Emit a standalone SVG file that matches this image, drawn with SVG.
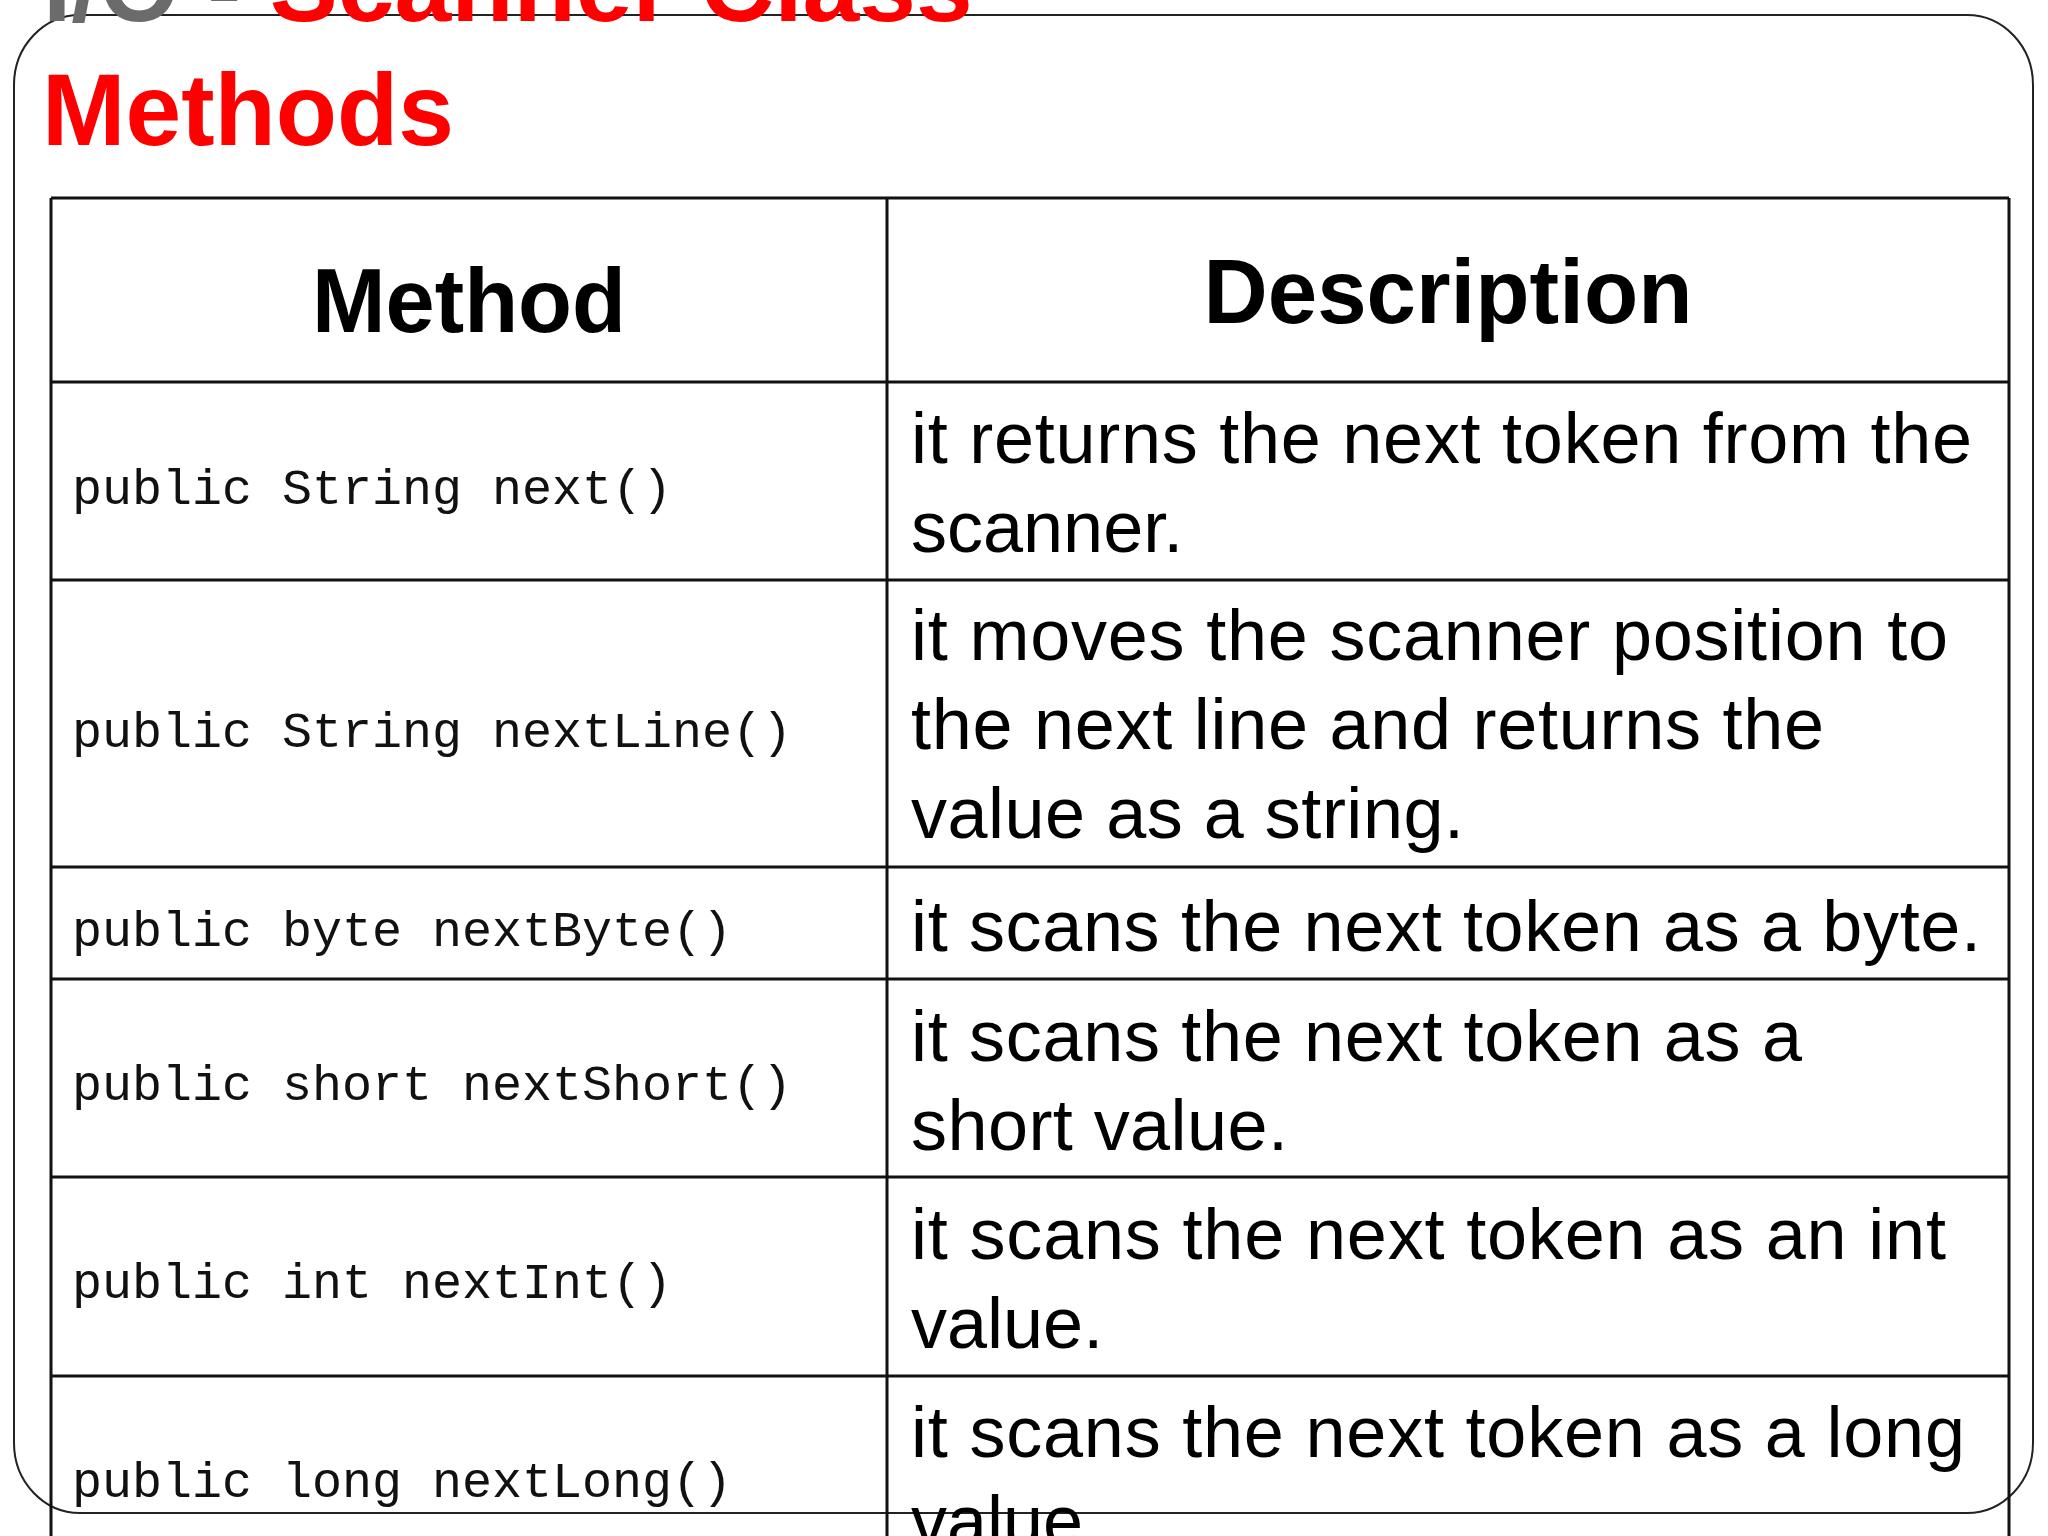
<svg xmlns="http://www.w3.org/2000/svg" width="2048" height="1536" viewBox="0 0 2048 1536">
<style>
.frame{fill:none;stroke:#222;stroke-width:2}
.grid{stroke:#111;stroke-width:3;fill:none}
.ttl{font-family:"Liberation Sans",Arial,sans-serif;font-weight:bold;font-size:102px}
.hdr{font-family:"Liberation Sans",Arial,sans-serif;font-weight:bold;font-size:90px;fill:#000;text-anchor:middle}
.mono{font-family:"Liberation Mono","Courier New",monospace;font-size:50px;fill:#111}
.desc{font-family:"Liberation Sans",Arial,sans-serif;font-size:72px;fill:#000}
</style>
<rect width="2048" height="1536" fill="#fff"/>
<g id="frame">
<rect class="frame" x="14" y="15" width="2019" height="1498" rx="66" ry="70"/>
</g>
<g id="title">
<text class="ttl" x="43" y="21"><tspan fill="#6b6b6b">I/O - </tspan><tspan fill="#ff0000">Scanner Class</tspan></text>
<text class="ttl" x="42" y="145" fill="#ff0000" textLength="412" lengthAdjust="spacingAndGlyphs">Methods</text>
</g>
<g id="connectors">
<line class="grid" x1="51" y1="198" x2="51" y2="1536"/>
<line class="grid" x1="887" y1="198" x2="887" y2="1536"/>
<line class="grid" x1="2009" y1="198" x2="2009" y2="1536"/>
<line class="grid" x1="51" y1="198" x2="2009" y2="198"/>
<line class="grid" x1="51" y1="382" x2="2009" y2="382"/>
<line class="grid" x1="51" y1="580" x2="2009" y2="580"/>
<line class="grid" x1="51" y1="867" x2="2009" y2="867"/>
<line class="grid" x1="51" y1="979" x2="2009" y2="979"/>
<line class="grid" x1="51" y1="1177" x2="2009" y2="1177"/>
<line class="grid" x1="51" y1="1376" x2="2009" y2="1376"/>
</g>
<g id="header">
<text class="hdr" x="469" y="332" textLength="314" lengthAdjust="spacingAndGlyphs">Method</text>
<text class="hdr" x="1448" y="323" textLength="489" lengthAdjust="spacingAndGlyphs">Description</text>
</g>
<g id="row-next">
<text class="mono" x="72" y="504">public String next()</text>
<text class="desc" x="911" y="463" textLength="1061">it returns the next token from the</text>
<text class="desc" x="911" y="552">scanner.</text>
</g>
<g id="row-nextLine">
<text class="mono" x="72" y="747">public String nextLine()</text>
<text class="desc" x="911" y="660" textLength="1037">it moves the scanner position to</text>
<text class="desc" x="911" y="749" textLength="913">the next line and returns the</text>
<text class="desc" x="911" y="838" textLength="553">value as a string.</text>
</g>
<g id="row-nextByte">
<text class="mono" x="72" y="946">public byte nextByte()</text>
<text class="desc" x="911" y="951" textLength="1070">it scans the next token as a byte.</text>
</g>
<g id="row-nextShort">
<text class="mono" x="72" y="1100">public short nextShort()</text>
<text class="desc" x="911" y="1061" textLength="891">it scans the next token as a</text>
<text class="desc" x="911" y="1150" textLength="377">short value.</text>
</g>
<g id="row-nextInt">
<text class="mono" x="72" y="1298">public int nextInt()</text>
<text class="desc" x="911" y="1259" textLength="1035">it scans the next token as an int</text>
<text class="desc" x="911" y="1348">value.</text>
</g>
<g id="row-nextLong">
<text class="mono" x="72" y="1497">public long nextLong()</text>
<text class="desc" x="911" y="1457" textLength="1054">it scans the next token as a long</text>
<text class="desc" x="911" y="1546">value.</text>
</g>
</svg>
